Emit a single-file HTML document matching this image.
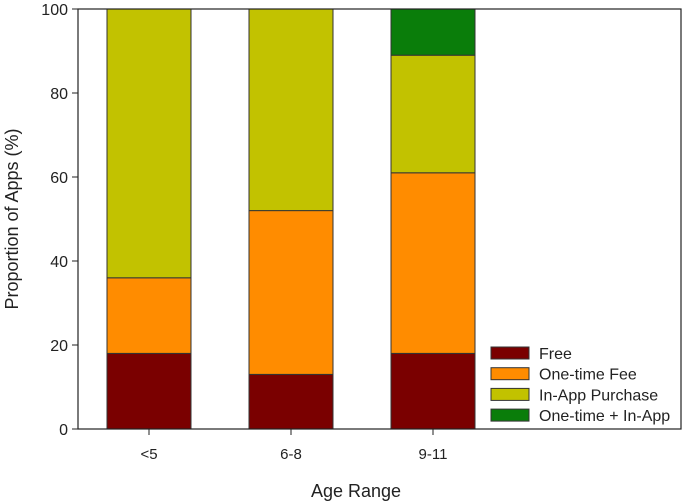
<!DOCTYPE html>
<html><head><meta charset="utf-8"><style>
body{margin:0;background:#fff;}
svg{display:block;font-family:"Liberation Sans",Arial,sans-serif;}
</style></head><body>
<svg id="chart" width="685" height="502">
<g id="marks"></g>
<rect x="78" y="9" width="603" height="420" fill="none" stroke="#222" stroke-width="1.2"/>
<g id="yaxis"></g>
<g id="xaxis"></g>
<text x="356" y="497" font-size="18" text-anchor="middle" fill="#222">Age Range</text>
<text transform="translate(18,219) rotate(-90)" font-size="18" text-anchor="middle" fill="#222">Proportion of Apps (%)</text>
<g id="legend"></g>
</svg>
<script>
const categories = ["<5","6-8","9-11"];
const seriesNames = ["Free","One-time Fee","In-App Purchase","One-time + In-App"];
const free = [18,13,18];
const oneTime = [18,39,43];
const inApp = [64,48,28];
const both = [0,0,11];
const yTicks = [0,20,40,60,80,100];
const colors = ["#7a0000","#ff8c00","#c2c200","#0a7d0a"];
const NS="http://www.w3.org/2000/svg";
const x0=78,x1=681,yTop=9,yBot=429;
const y = v => yBot - (v/100)*(yBot-yTop);
const xc = i => 149 + i*142;
const bw = 84;
function mk(tag,attrs,parent){const e=document.createElementNS(NS,tag);for(const k in attrs)e.setAttribute(k,attrs[k]);parent.appendChild(e);return e;}
const marks=document.getElementById('marks');
const series=[free,oneTime,inApp,both];
categories.forEach((c,i)=>{
  let base=0;
  series.forEach((s,j)=>{
    const v=s[i]; if(!v)return;
    const r=mk('rect',{x:xc(i)-bw/2,y:y(base+v),width:bw,height:y(base)-y(base+v),fill:colors[j],stroke:'#333','stroke-width':1},marks);
    
    
    base+=v;
  });
});
const ya=document.getElementById('yaxis');
yTicks.forEach(t=>{
  mk('line',{x1:x0-6,x2:x0,y1:y(t),y2:y(t),stroke:'#222','stroke-width':1},ya);
  const tx=mk('text',{x:x0-10,y:y(t)+6,'font-size':16,'text-anchor':'end',fill:'#222'},ya);
  tx.textContent=t;
  
  
});
const xa=document.getElementById('xaxis');
categories.forEach((c,i)=>{
  mk('line',{x1:xc(i),x2:xc(i),y1:yBot,y2:yBot+6,stroke:'#222','stroke-width':1},xa);
  const tx=mk('text',{x:xc(i),y:yBot+30,'font-size':15,'text-anchor':'middle',fill:'#222'},xa);
  tx.textContent=c;
  
  
});
const lg=document.getElementById('legend');
seriesNames.forEach((n,j)=>{
  const yy=347+j*20.7;
  const r=mk('rect',{x:491,y:yy,width:38,height:12,fill:colors[j],stroke:'#333','stroke-width':1},lg);
  
  
  const tx=mk('text',{x:539,y:yy+12,'font-size':16,fill:'#222'},lg);
  tx.textContent=n;
  
  
});
</script>
</body></html>
